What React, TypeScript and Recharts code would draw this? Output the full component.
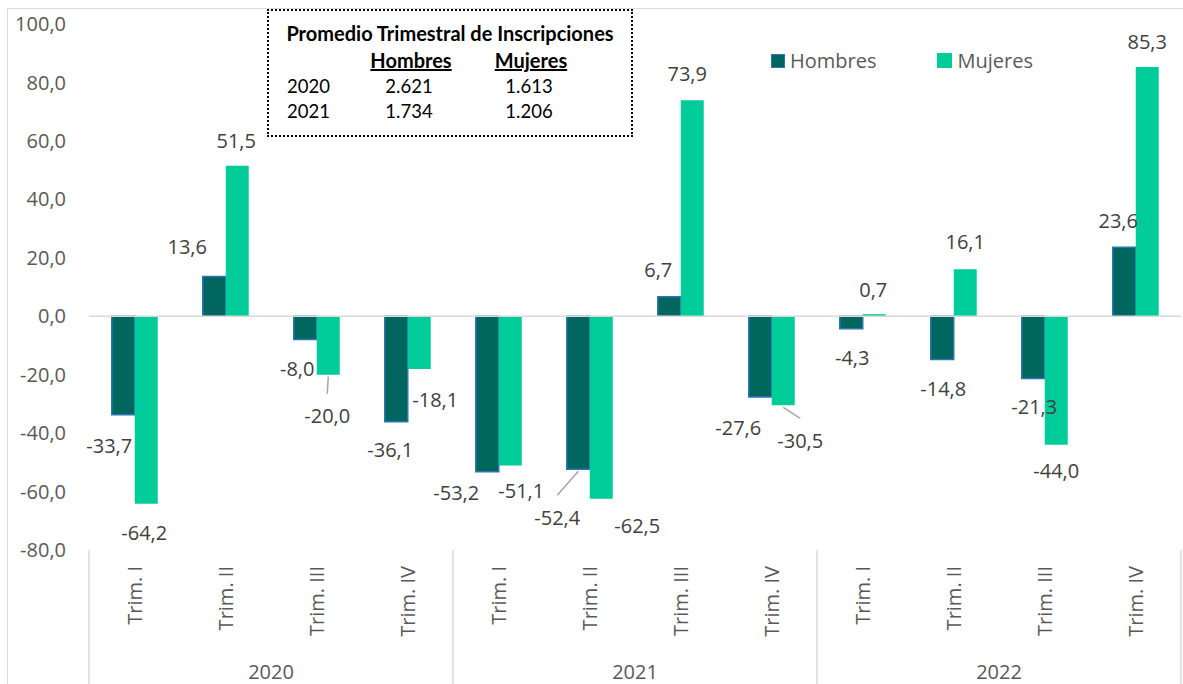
import React from 'react';
import { BarChart, Bar, XAxis, YAxis, ReferenceLine, LabelList } from 'recharts';

const YEARS = ['2020', '2021', '2022'];
const QUARTERS = ['Trim. I', 'Trim. II', 'Trim. III', 'Trim. IV'];
const HOMBRES = [-33.7, 13.6, -8.0, -36.1, -53.2, -52.4, 6.7, -27.6, -4.3, -14.8, -21.3, 23.6];
const MUJERES = [-64.2, 51.5, -20.0, -18.1, -51.1, -62.5, 73.9, -30.5, 0.7, 16.1, -44.0, 85.3];
const Y_TICKS = [-80, -60, -40, -20, 0, 20, 40, 60, 80, 100];

const PROMEDIO_HEAD = ['Hombres', 'Mujeres'];
const PROMEDIO_ROWS = [
  { year: '2020', hombres: '2.621', mujeres: '1.613' },
  { year: '2021', hombres: '1.734', mujeres: '1.206' },
];

const data = HOMBRES.map((h, i) => ({
  key: `${YEARS[Math.floor(i / 4)]}-${QUARTERS[i % 4]}`,
  quarter: QUARTERS[i % 4],
  year: YEARS[Math.floor(i / 4)],
  hombres: h,
  mujeres: MUJERES[i],
}));

// label offsets (centre of text relative to bar end), as Excel had them moved by hand
const H_NUDGE = [[-14, 31], [-27, -30], [-8, 29], [-6, 28], [-31, 21], [-21, 48], [-11, -27], [-22, 31], [1, 29], [1, 29], [1, 28], [-6, -27]];
const M_NUDGE = [[-2, 29], [-1, -25], [-1, 41], [16, 30], [11, 25], [36, 27], [-5, -27], [17, 35], [-1, -25], [0, -28], [0, 26], [0, -25]];
const H_LEADER = [5];
const M_LEADER = [2, 7];

const W = 1183;
const H = 684;
const PLOT_LEFT = 89;
const PLOT_RIGHT = 2;
const BAND = (W - PLOT_LEFT - PLOT_RIGHT) / HOMBRES.length;

const fmt = (v: number) => v.toFixed(1).replace('.', ',');

const makeLabel = (nudge: number[][], leaders: number[]) => (props: any) => {
  const { x, y, width, height, value, index } = props;
  const top = Math.min(y, y + height);
  const bottom = Math.max(y, y + height);
  const endY = value >= 0 ? top : bottom;
  const bx = x + width / 2;
  const [dx, dy] = nudge[index] || [0, value >= 0 ? -27 : 27];
  const cx = bx + dx;
  const cy = endY + dy;
  return (
    <g>
      {leaders.includes(index) && (
        <line x1={bx} y1={endY + 2} x2={cx} y2={cy - 22} stroke="#a6a6a6" strokeWidth={1.5} />
      )}
      <text x={cx} y={cy} textAnchor="middle" dominantBaseline="central" fontSize={20} fill="#404040" fontFamily="Open Sans">
        {fmt(value)}
      </text>
    </g>
  );
};

const XTick = (props: any) => {
  const { x, y, payload, index } = props;
  const row = data[index];
  const left = x - BAND / 2;
  return (
    <g>
      <text
        x={x}
        y={y + 16}
        transform={`rotate(-90 ${x} ${y + 16})`}
        textAnchor="end"
        dominantBaseline="central"
        fontSize={20}
        fill="#595959"
        fontFamily="Open Sans"
      >
        {row ? row.quarter : payload.value}
      </text>
      {index % 4 === 0 && <line x1={left} y1={y} x2={left} y2={H} stroke="#d9d9d9" strokeWidth={1.5} />}
      {index === data.length - 1 && (
        <line x1={x + BAND / 2} y1={y} x2={x + BAND / 2} y2={H} stroke="#d9d9d9" strokeWidth={1.5} />
      )}
      {index % 4 === 1 && (
        <text x={x + BAND / 2} y={y + 121} textAnchor="middle" dominantBaseline="central" fontSize={20} fill="#595959" fontFamily="Open Sans">
          {row.year}
        </text>
      )}
    </g>
  );
};

const LegendBox = () => (
  <div style={{ position: 'absolute', left: 771, top: 47, display: 'flex', alignItems: 'center', fontFamily: 'Open Sans', fontSize: 20, color: '#595959' }}>
    <span style={{ width: 12, height: 12, background: '#00665e', border: '1.5px solid #2e75b6', display: 'inline-block', marginRight: 5 }} />
    <span style={{ marginRight: 61 }}>Hombres</span>
    <span style={{ width: 15, height: 15, background: '#00cc99', display: 'inline-block', marginRight: 5 }} />
    <span>Mujeres</span>
  </div>
);

const PromedioBox = () => {
  const font = { fontFamily: 'Lato', fontSize: 18.5, color: '#000' };
  const cell = (left: number, top: number, text: string, extra: any = {}) => (
    <div style={{ position: 'absolute', left: left - 60, top, width: 120, textAlign: 'center', lineHeight: '20px', ...font, ...extra }}>
      {text}
    </div>
  );
  return (
    <div style={{ position: 'absolute', left: 267, top: 9, width: 362, height: 124, border: '2.5px dotted #000', background: '#fff' }}>
      <div style={{ position: 'absolute', left: 0, top: 12, width: '100%', textAlign: 'center', fontWeight: 700, lineHeight: '20px', ...font, fontSize: 20 }}>
        Promedio Trimestral de Inscripciones
      </div>
      {cell(142, 39, PROMEDIO_HEAD[0], { fontWeight: 700, textDecoration: 'underline', fontSize: 20 })}
      {cell(262, 39, PROMEDIO_HEAD[1], { fontWeight: 700, textDecoration: 'underline', fontSize: 20 })}
      {PROMEDIO_ROWS.map((r, i) => (
        <React.Fragment key={r.year}>
          <div style={{ position: 'absolute', left: 18, top: 65 + i * 25, lineHeight: '20px', ...font }}>{r.year}</div>
          {cell(140, 65 + i * 25, r.hombres)}
          {cell(260, 65 + i * 25, r.mujeres)}
        </React.Fragment>
      ))}
    </div>
  );
};

const App: React.FC = () => {
  return (
    <div style={{ position: 'absolute', left: 0, top: 0, width: W, height: H, background: '#fff', overflow: 'hidden' }}>
      <div style={{ position: 'absolute', left: 7, top: 8, width: W, height: H, borderLeft: '1.5px solid #d9d9d9', borderTop: '1.5px solid #d9d9d9' }} />
      <BarChart width={W} height={H} data={data} margin={{ top: 24, right: PLOT_RIGHT, bottom: 0, left: 0 }} barCategoryGap="25%" barGap={0}>
        <YAxis
          type="number"
          domain={[-80, 100]}
          ticks={Y_TICKS}
          width={PLOT_LEFT}
          axisLine={false}
          tickLine={false}
          tickMargin={17}
          interval={0}
          tickFormatter={fmt}
          tick={{ fontSize: 20, fill: '#595959', fontFamily: 'Open Sans' }}
        />
        <XAxis
          dataKey="key"
          height={134}
          interval={0}
          axisLine={false}
          tickLine={false}
          tickSize={0}
          tickMargin={0}
          tick={<XTick />}
        />
        <ReferenceLine y={0} stroke="#d9d9d9" strokeWidth={1.5} />
        <Bar dataKey="hombres" fill="#00665e" stroke="#2e75b6" strokeWidth={1.5} isAnimationActive={false}>
          <LabelList dataKey="hombres" content={makeLabel(H_NUDGE, H_LEADER)} />
        </Bar>
        <Bar dataKey="mujeres" fill="#00cc99" isAnimationActive={false}>
          <LabelList dataKey="mujeres" content={makeLabel(M_NUDGE, M_LEADER)} />
        </Bar>
      </BarChart>
      <PromedioBox />
      <LegendBox />
    </div>
  );
};

export default App;
